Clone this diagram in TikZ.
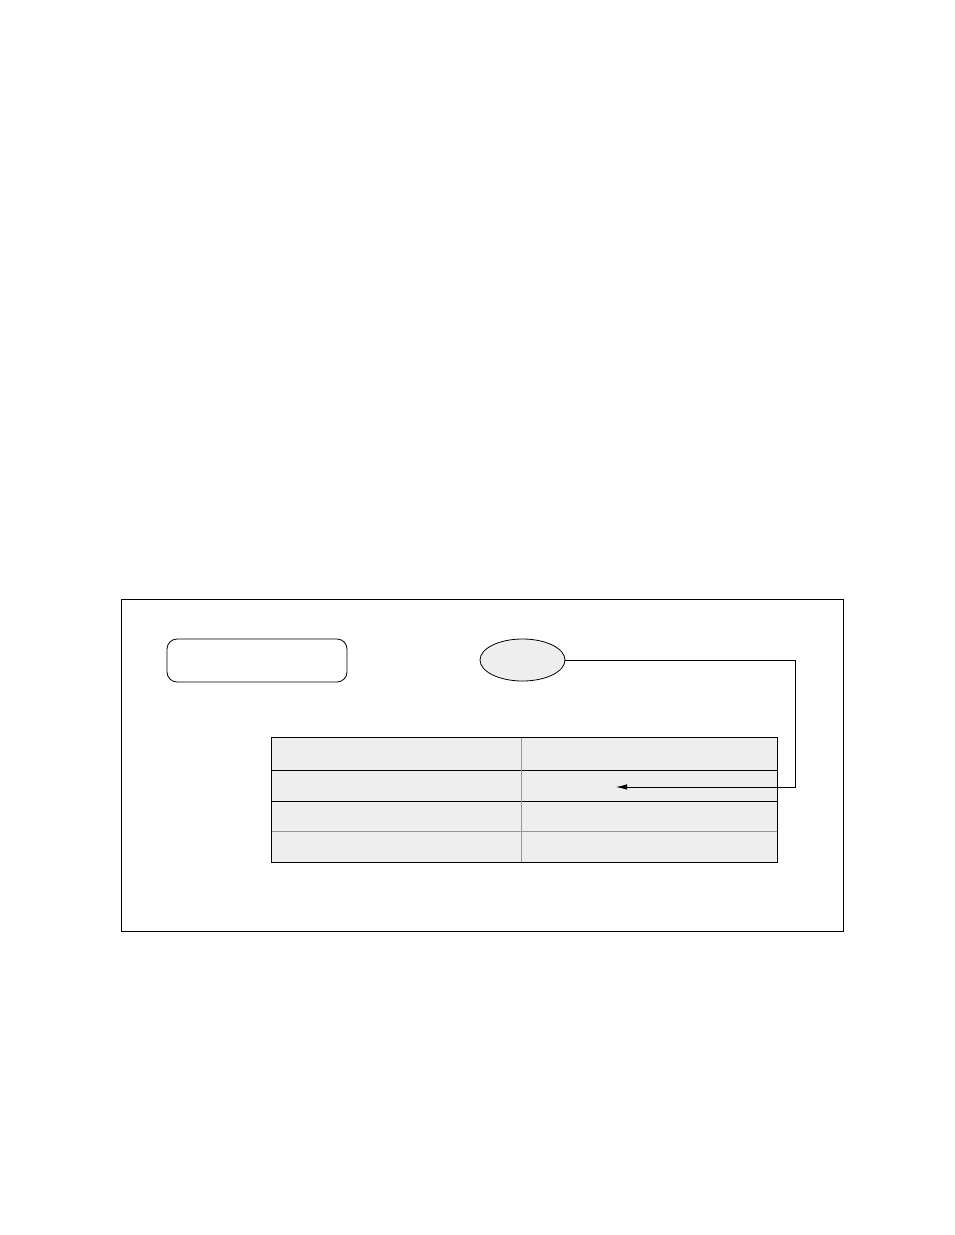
\documentclass[tikz,border=0pt]{standalone}
\usepackage{xcolor}
\usetikzlibrary{shapes.geometric,arrows.meta}
\definecolor{cellgray}{RGB}{238,238,238}
\definecolor{rulegray}{RGB}{150,150,150}

\begin{document}
\begin{tikzpicture}[x=1pt, y=-1pt,
  frame/.style={draw, line width=1pt, inner sep=0pt},
  roundbox/.style={draw, line width=0.8pt, rounded corners=10pt, inner sep=0pt},
  oval/.style={ellipse, draw, line width=0.8pt, fill=cellgray, inner sep=0pt},
  cell/.style={rectangle, fill=cellgray, inner sep=0pt},
  link/.style={line width=0.8pt, -{Latex[length=11pt,width=5.5pt]}}]
  \useasboundingbox (0,0) rectangle (954,1235);

  % outer frame
  \node[frame, minimum width=722pt, minimum height=332pt] (panel) at (482,765) {};

  % top shapes
  \node[roundbox, minimum width=180pt, minimum height=43pt] (label) at (257,660.5) {};
  \node[oval, minimum width=85pt, minimum height=42pt] (state) at (522.5,660) {};

  % table cells
  \foreach \r/\y/\h in {1/754/32, 2/785.5/31, 3/816/30, 4/846.5/31} {
    \node[cell, minimum width=249pt, minimum height=\h pt] (c\r1) at (396.5,\y) {};
    \node[cell, minimum width=256pt, minimum height=\h pt] (c\r2) at (649,\y) {};
  }

  % table rules
  \draw[line width=0.9pt] (c11.south west) -- (c12.south east);
  \draw[line width=0.9pt] (c21.south west) -- (c22.south east);
  \draw[line width=0.9pt, rulegray] (c31.south west) -- (c32.south east);
  \draw[line width=1.2pt, rulegray] (c11.north east) -- (c41.south east);
  \draw[line width=1pt] (c11.north west) rectangle (c42.south east);

  % connector
  \coordinate (target) at (616,787);
  \draw[link] (state.east) -- ++(230,0) |- (target);
\end{tikzpicture}
\end{document}
